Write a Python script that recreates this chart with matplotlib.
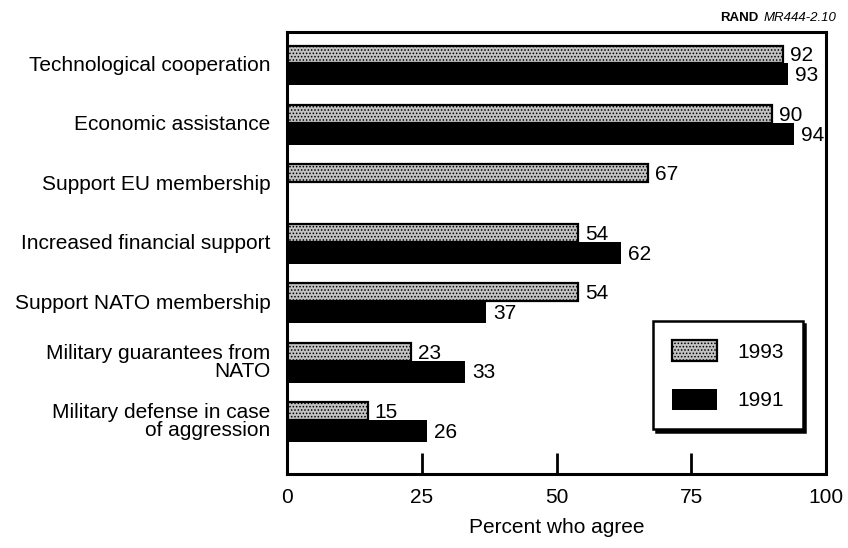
import numpy as np
import matplotlib
matplotlib.use("Agg")
import matplotlib.pyplot as plt

plt.rcParams['font.family'] = ['Liberation Sans', 'DejaVu Sans']
plt.rcParams['hatch.linewidth'] = 0.7

# data
categories = ["Technological cooperation", "Economic assistance", "Support EU membership",
              "Increased financial support", "Support NATO membership",
              "Military guarantees from\nNATO", "Military defense in case\nof aggression"]
values_1993 = [92, 90, 67, 54, 54, 23, 15]
values_1991 = [93, 94, np.nan, 62, 37, 33, 26]
xticks = [0, 25, 50, 75, 100]

fs = 15
fig = plt.figure(figsize=(8.48, 5.48), dpi=100)
ax = fig.add_axes([287/848, 1 - 474/548, (826-287)/848, (474-32)/548])

pos = np.arange(len(categories))
h93 = 0.30
h91 = 0.37
bars93 = ax.barh(pos - h93/2, values_1993, height=h93, facecolor='#c2c2c2', edgecolor='black',
                 hatch='.....', linewidth=1.6, label='1993')
bars91 = ax.barh(pos + h91/2, np.nan_to_num(values_1991), height=h91, color='black',
                 linewidth=0, label='1991')

# value labels
for p, v in zip(pos, values_1993):
    ax.annotate(str(v), (v, p - h93/2), xytext=(5, -1), textcoords='offset points',
                va='center', ha='left', fontsize=fs)
for p, v in zip(pos, values_1991):
    if np.isnan(v):
        continue
    ax.annotate(str(int(v)), (v, p + h91/2), xytext=(5, -1), textcoords='offset points',
                va='center', ha='left', fontsize=fs)

ax.set_xlim(0, 100)
ax.set_ylim(6.91, -0.53)
ax.set_xticks(xticks)
ax.set_xticklabels([str(t) for t in xticks], fontsize=fs)
ax.tick_params(axis='x', direction='in', length=15, width=2, pad=10)
ax.set_yticks(pos)
ax.set_yticklabels(categories, fontsize=fs, linespacing=0.95)
ax.tick_params(axis='y', length=0, pad=12)
for s in ax.spines.values():
    s.set_linewidth(2.2)

ax.set_xlabel("Percent who agree", fontsize=fs, labelpad=8)

leg = ax.legend(loc='upper left', bbox_to_anchor=(0.679, 0.346), borderaxespad=0,
                fontsize=fs, handlelength=2.15, handleheight=1.2, handletextpad=1.0,
                labelspacing=1.3, borderpad=0.9, fancybox=False, framealpha=1,
                edgecolor='black', shadow={'color': 'black', 'alpha': 1})
leg.get_frame().set_linewidth(1.8)

fig.text(758/848, 1 - 18/548, "RAND", fontsize=9.5, fontweight='bold', ha='right', va='center')
fig.text(764/848, 1 - 18/548, "MR444-2.10", fontsize=9.5, style='italic', ha='left', va='center')

fig.savefig("out.png", dpi=100)
